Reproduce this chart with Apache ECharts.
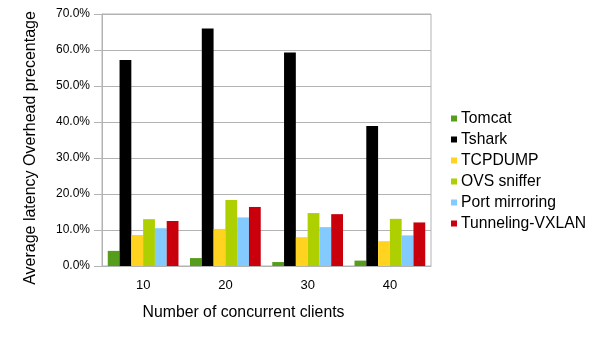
<!DOCTYPE html>
<html>
<head>
<meta charset="utf-8">
<script src="https://cdn.jsdelivr.net/npm/echarts@6/dist/echarts.min.js"></script>
<style>
  html, body { margin: 0; padding: 0; background: #fff; }
  #chart { width: 605px; height: 340px; }
</style>
</head>
<body>
<div id="chart"></div>
<script>
var clients = ['10', '20', '30', '40'];
var seriesNames = ['Tomcat', 'Tshark', 'TCPDUMP', 'OVS sniffer', 'Port mirroring', 'Tunneling-VXLAN'];
var tomcat = [4.2, 2.2, 1.1, 1.5];
var tshark = [57.2, 66.0, 59.3, 38.9];
var tcpdump = [8.6, 10.3, 8.0, 6.9];
var ovsSniffer = [13.0, 18.3, 14.7, 13.1];
var portMirroring = [10.5, 13.5, 10.8, 8.5];
var tunnelingVxlan = [12.5, 16.4, 14.4, 12.1];

var values = [tomcat, tshark, tcpdump, ovsSniffer, portMirroring, tunnelingVxlan];
var colors = ['#579d1c', '#000000', '#ffd320', '#aecf00', '#83caff', '#c9000b'];
var font = 'Liberation Sans';

var chart = echarts.init(document.getElementById('chart'), null, { renderer: 'canvas' });
chart.setOption({
  animation: false,
  textStyle: { fontFamily: font },
  color: colors,
  grid: {
    left: 102, right: 174, top: 14, bottom: 74,
    show: true, borderColor: '#b3b3b3', borderWidth: 1
  },
  legend: {
    orient: 'vertical',
    left: 446,
    top: 105.5,
    itemWidth: 6,
    itemHeight: 6,
    itemGap: 5,
    icon: 'rect',
    data: seriesNames,
    textStyle: { fontFamily: font, fontSize: 15.7, color: '#000', padding: [0, 0, 0, -1] }
  },
  xAxis: {
    type: 'category',
    data: clients,
    name: 'Number of concurrent clients',
    nameLocation: 'middle',
    nameGap: 39,
    nameTextStyle: { fontFamily: font, fontSize: 15.8, color: '#000', padding: [0, 46, 0, 0] },
    axisLine: { lineStyle: { color: '#b3b3b3' } },
    axisTick: { length: 7, lineStyle: { color: '#b3b3b3' } },
    axisLabel: { fontFamily: font, fontSize: 13, color: '#000', margin: 13 }
  },
  yAxis: {
    type: 'value',
    min: 0,
    max: 70,
    interval: 10,
    name: 'Average latency Overhead precentage',
    nameLocation: 'middle',
    nameGap: 63,
    nameTextStyle: { fontFamily: font, fontSize: 16, color: '#000', padding: [0, 16, 0, 0] },
    axisLine: { show: true, lineStyle: { color: '#b3b3b3' } },
    axisTick: { show: true, length: 8, lineStyle: { color: '#b3b3b3' } },
    splitLine: { lineStyle: { color: '#b3b3b3' } },
    axisLabel: {
      fontFamily: font, fontSize: 12, color: '#000', margin: 12,
      formatter: function(v) { return v.toFixed(1) + '%'; }
    }
  },
  series: seriesNames.map(function(name, i) {
    return {
      name: name,
      type: 'bar',
      data: values[i],
      barGap: '0%',
      barCategoryGap: '14%',
      itemStyle: { color: colors[i] }
    };
  })
});
</script>
</body>
</html>
